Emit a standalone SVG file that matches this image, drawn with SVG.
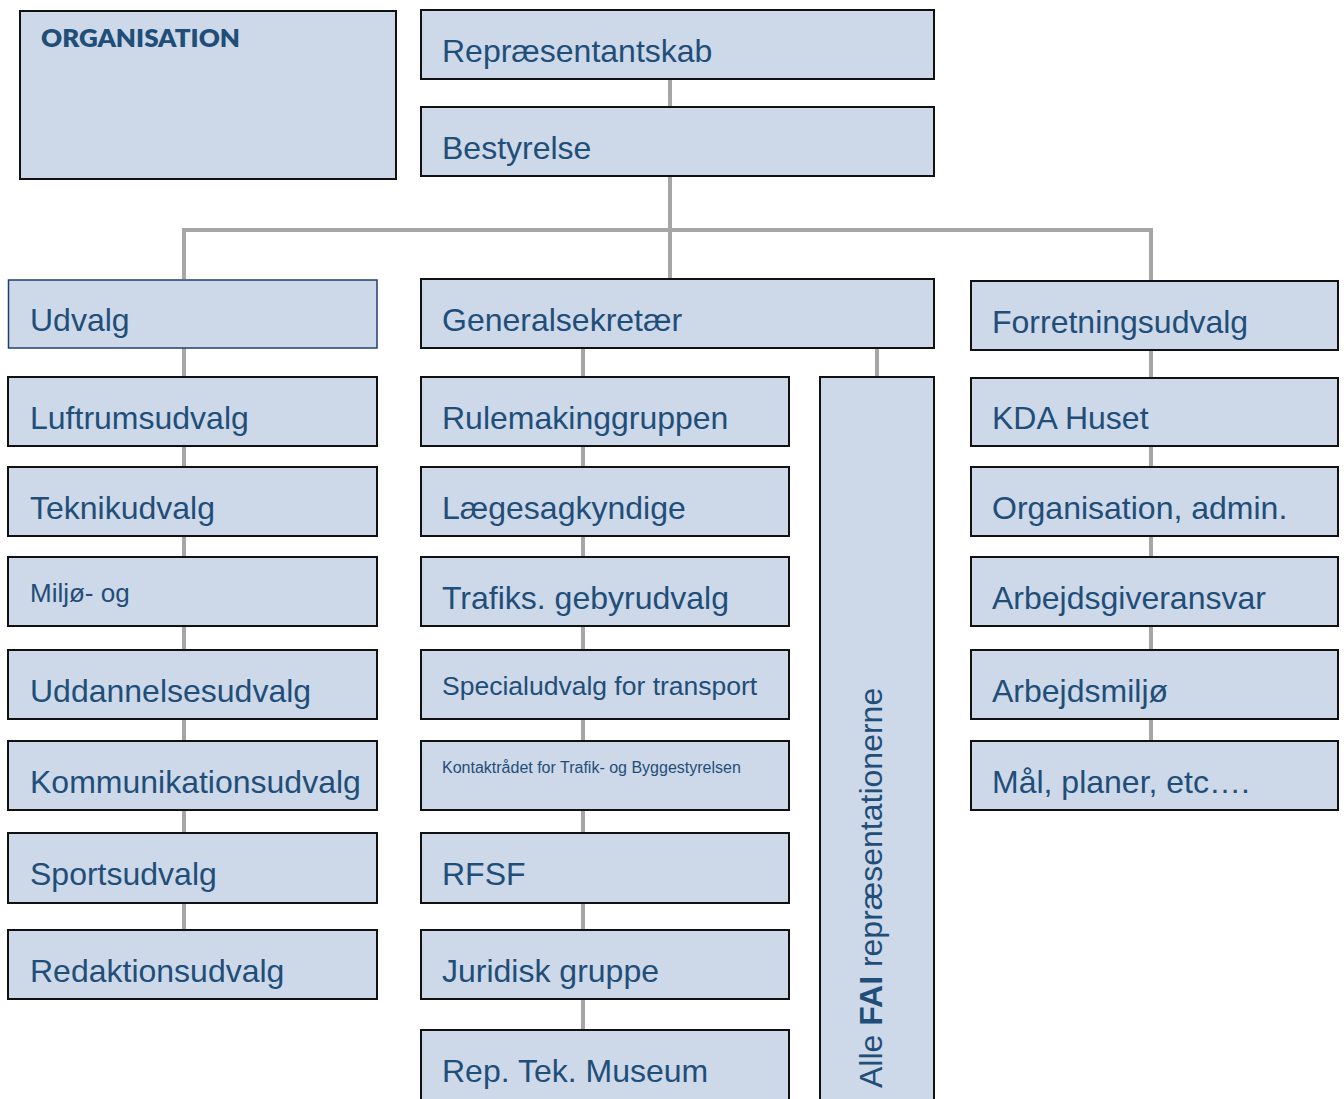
<svg xmlns="http://www.w3.org/2000/svg" width="1344" height="1099" viewBox="0 0 1344 1099">
<style>
.box{fill:#cdd8e9;stroke:#111;stroke-width:2}
.box2{fill:#cdd8e9;stroke:#1f3f6e;stroke-width:1.5}
.t{font-family:"Liberation Sans",Arial,sans-serif;font-size:32px;fill:#1f4e79}
.conn{fill:none;stroke:#a6a6a6;stroke-width:4}
</style>
<rect width="1344" height="1099" fill="#fff"/>
<g id="connectors">
<path class="conn" d="M670 79V107M670 176V230M182 230H1153M184 230V279M670 230V279M1151 230V280"/>
<path class="conn" d="M184 348V377M184 446V467M184 536V557M184 626V650M184 719V741M184 810V833M184 903V930"/>
<path class="conn" d="M583 348V377M583 446V467M583 536V557M583 626V650M583 719V741M583 810V833M583 903V930M583 999V1030"/>
<path class="conn" d="M877 348V377"/>
<path class="conn" d="M1151 350V378M1151 446V467M1151 536V557M1151 626V650M1151 719V741"/>
</g>
<g id="organisation"><rect class="box" x="20" y="11" width="376" height="168"/><text x="41" y="47" font-family="Lato,'Open Sans',sans-serif" font-weight="800" font-size="24" fill="#1f4e79" textLength="199" lengthAdjust="spacingAndGlyphs">ORGANISATION</text></g>
<g id="repraesentantskab"><rect class="box" x="421" y="10" width="513" height="69"/><text class="t" x="442" y="62">Repræsentantskab</text></g>
<g id="bestyrelse"><rect class="box" x="421" y="107" width="513" height="69"/><text class="t" x="442" y="159">Bestyrelse</text></g>
<g id="udvalg"><rect class="box2" x="8.5" y="280" width="368.5" height="68"/><text class="t" x="30" y="331">Udvalg</text></g>
<g id="generalsekretaer"><rect class="box" x="421" y="279" width="513" height="69"/><text class="t" x="442" y="331">Generalsekretær</text></g>
<g id="forretningsudvalg"><rect class="box" x="971" y="281" width="367" height="69"/><text class="t" x="992" y="333">Forretningsudvalg</text></g>
<g id="luftrumsudvalg"><rect class="box" x="8" y="377" width="369" height="69"/><text class="t" x="30" y="429">Luftrumsudvalg</text></g>
<g id="teknikudvalg"><rect class="box" x="8" y="467" width="369" height="69"/><text class="t" x="30" y="519">Teknikudvalg</text></g>
<g id="miljoe"><rect class="box" x="8" y="557" width="369" height="69"/><text class="t" x="30" y="602" style="font-size:26px">Miljø- og</text></g>
<g id="uddannelsesudvalg"><rect class="box" x="8" y="650" width="369" height="69"/><text class="t" x="30" y="702">Uddannelsesudvalg</text></g>
<g id="kommunikationsudvalg"><rect class="box" x="8" y="741" width="369" height="69"/><text class="t" x="30" y="793">Kommunikationsudvalg</text></g>
<g id="sportsudvalg"><rect class="box" x="8" y="833" width="369" height="70"/><text class="t" x="30" y="885">Sportsudvalg</text></g>
<g id="redaktionsudvalg"><rect class="box" x="8" y="930" width="369" height="69"/><text class="t" x="30" y="982">Redaktionsudvalg</text></g>
<g id="rulemakinggruppen"><rect class="box" x="421" y="377" width="368" height="69"/><text class="t" x="442" y="429">Rulemakinggruppen</text></g>
<g id="laegesagkyndige"><rect class="box" x="421" y="467" width="368" height="69"/><text class="t" x="442" y="519">Lægesagkyndige</text></g>
<g id="trafiks"><rect class="box" x="421" y="557" width="368" height="69"/><text class="t" x="442" y="609">Trafiks. gebyrudvalg</text></g>
<g id="specialudvalg"><rect class="box" x="421" y="650" width="368" height="69"/><text class="t" x="442" y="695" style="font-size:26.5px">Specialudvalg for transport</text></g>
<g id="kontaktraadet"><rect class="box" x="421" y="741" width="368" height="69"/><text class="t" x="442" y="773" style="font-size:16px">Kontaktrådet for Trafik- og Byggestyrelsen</text></g>
<g id="rfsf"><rect class="box" x="421" y="833" width="368" height="70"/><text class="t" x="442" y="885">RFSF</text></g>
<g id="juridisk"><rect class="box" x="421" y="930" width="368" height="69"/><text class="t" x="442" y="982">Juridisk gruppe</text></g>
<g id="reptek"><rect class="box" x="421" y="1030" width="368" height="80"/><text class="t" x="442" y="1082">Rep. Tek. Museum</text></g>
<g id="fai"><rect class="box" x="820" y="377" width="114" height="733"/><text class="t" transform="translate(882,1088) rotate(-90)">Alle <tspan font-weight="700">FAI</tspan> repræsentationerne</text></g>
<g id="kdahuset"><rect class="box" x="971" y="378" width="367" height="68"/><text class="t" x="992" y="429">KDA Huset</text></g>
<g id="organisationadmin"><rect class="box" x="971" y="467" width="367" height="69"/><text class="t" x="992" y="519">Organisation, admin.</text></g>
<g id="arbejdsgiveransvar"><rect class="box" x="971" y="557" width="367" height="69"/><text class="t" x="992" y="609">Arbejdsgiveransvar</text></g>
<g id="arbejdsmiljoe"><rect class="box" x="971" y="650" width="367" height="69"/><text class="t" x="992" y="702">Arbejdsmiljø</text></g>
<g id="maal"><rect class="box" x="971" y="741" width="367" height="69"/><text class="t" x="992" y="793">Mål, planer, etc….</text></g>
</svg>
